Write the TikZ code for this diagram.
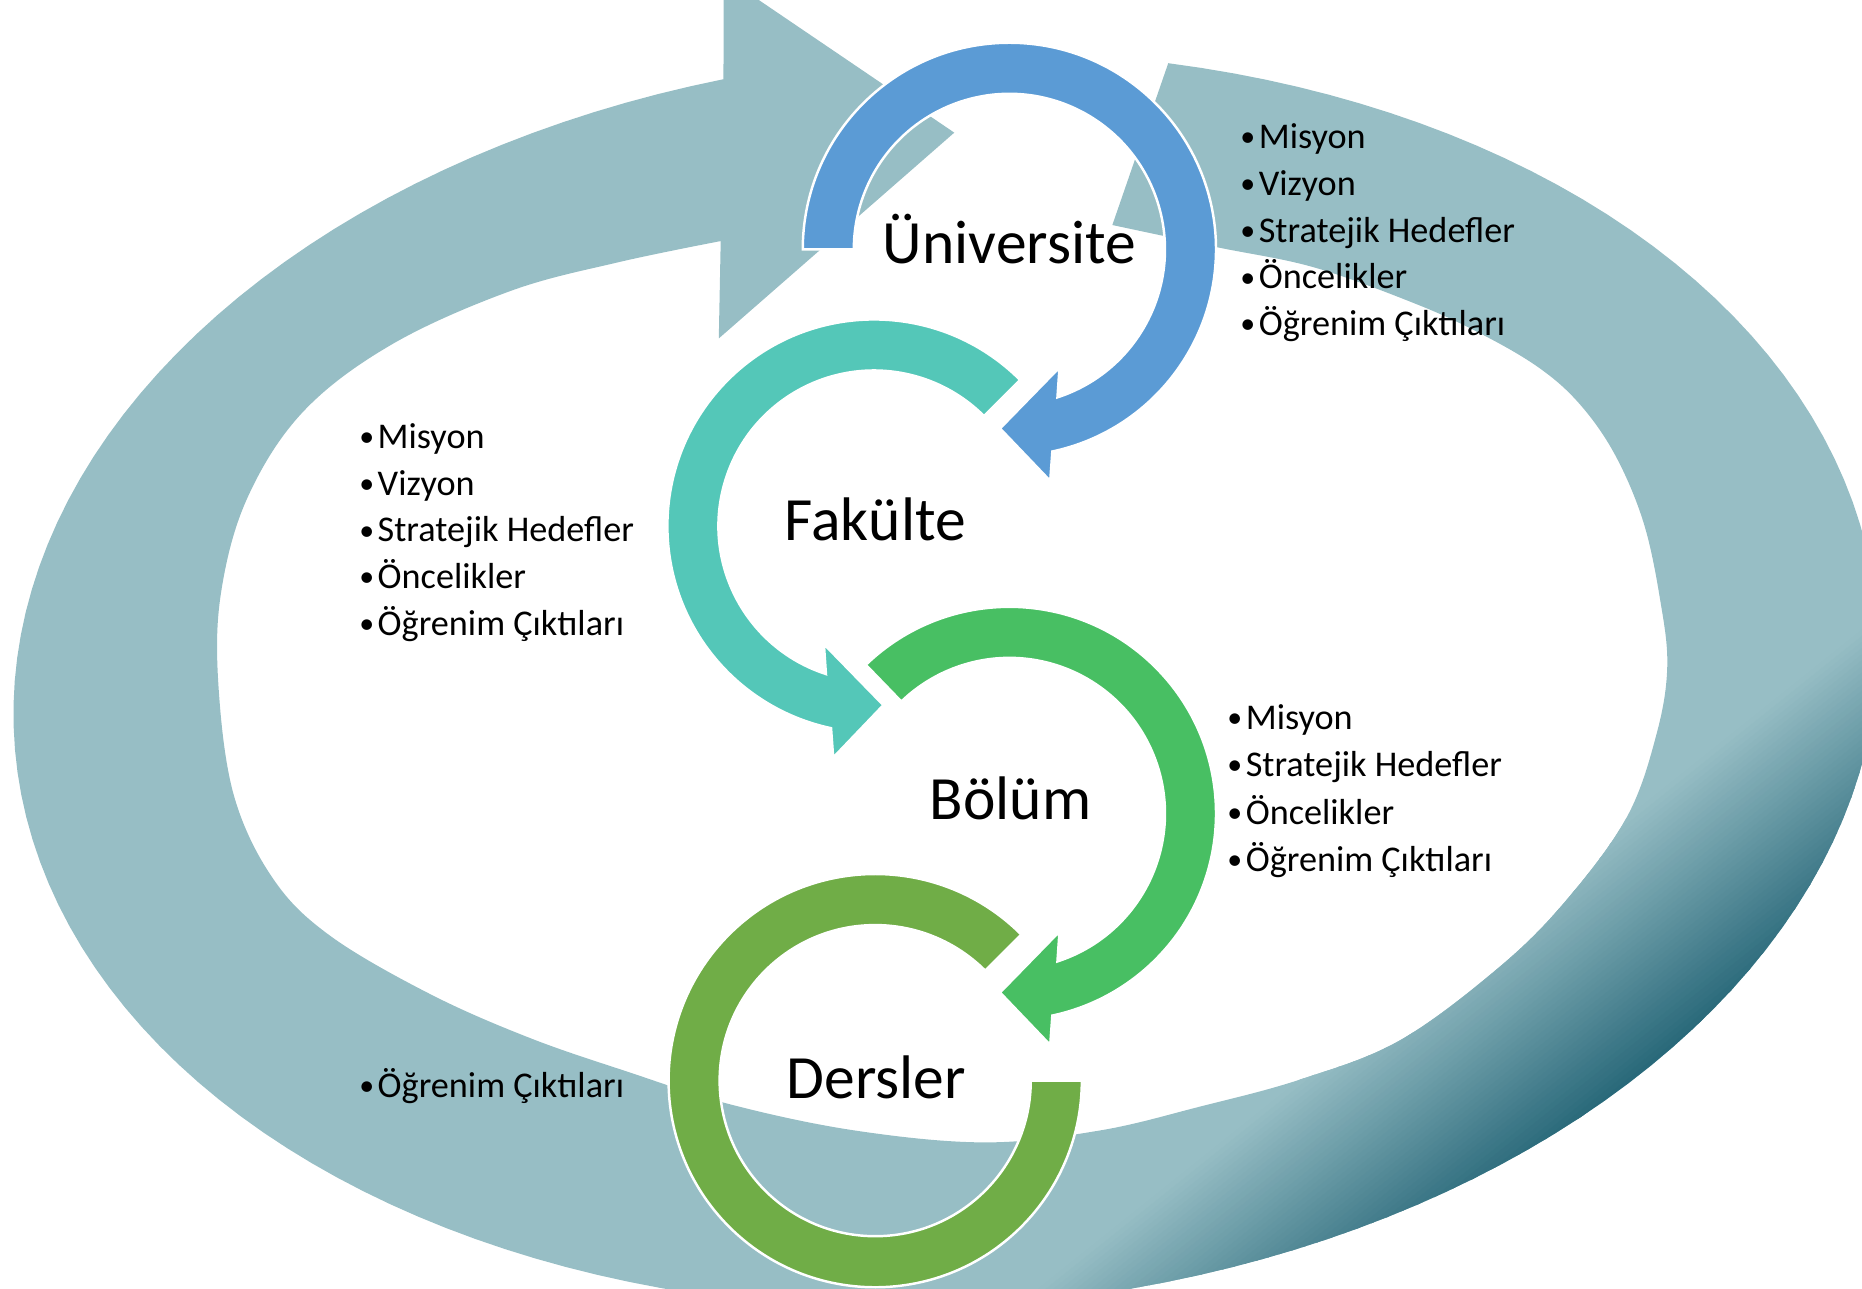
\documentclass[tikz,border=0pt]{standalone}
\usepackage{fontspec}
\setmainfont{Carlito}
\usepackage{tikz}
\usetikzlibrary{calc}

\definecolor{ringlight}{RGB}{151,190,197}
\definecolor{ringdark}{RGB}{30,96,114}
\definecolor{uniblue}{RGB}{91,155,213}
\definecolor{fakteal}{RGB}{84,199,184}
\definecolor{bolgreen}{RGB}{72,191,99}
\definecolor{dersolive}{RGB}{112,173,71}

% outline of the big cycle arrow (units: px of a 1568 x 1085 frame, y down)
\newcommand{\bigcycle}{plot[domain=-76.2:256.2, samples=160]
    ({796.5+785.2*cos(\x)},{573+528.3*sin(\x)-28.25*cos(\x)})
  -- (609.5,-20) -- (803.6,111.7) -- (605.3,285)
  -- plot[smooth, tension=0.6] coordinates {
    (606.9,203) (520,221) (430,245) (330,290) (255,347) (208,420) (186,500)
    (184,578) (197,670) (230,740) (278,788) (362,837) (446,874) (530,903)
    (615,930) (720,952) (830,962) (926,952) (1010,932) (1095,909) (1179,876)
    (1263,814) (1319,758) (1370,688) (1395,618) (1404,561) (1398,505)
    (1384,440) (1360,383) (1330,340) (1295,309) (1245,280) (1190,255)
    (1106,225) (1024,208) (936.7,189.5)}
  -- cycle}

% circular arrow: #1 centre, #2 colour, #3 start angle, #4 outer end,
% #5 outer barb, #6 tip, #7 inner barb, #8 inner end
\newcommand{\ringarrow}[8]{%
  \fill[#2, draw=white, line width=0.7pt, shift={#1}]
    (#3:174) arc[start angle=#3, end angle=#4, radius=174]
    -- (#5:198) -- (#6:151) -- (#7:108) -- (#8:131)
    arc[start angle=#8, end angle=#3, radius=131] -- cycle;}

\newcommand{\blt}{\raisebox{0.5pt}{\fontsize{8.5}{10}\selectfont•}\hspace{1pt}}

\begin{document}
\begin{tikzpicture}[x=0.011875cm, y=-0.011875cm,
  levelname/.style={font=\fontsize{17.5}{21}\selectfont, anchor=base, inner sep=0pt},
  bullitem/.style={font=\fontsize{10.3}{12.4}\selectfont, anchor=base west, inner sep=0pt}]
\useasboundingbox (0,0) rectangle (1568,1085);
\clip (0,0) rectangle (1568,1085);

% Big cycle arrow
\fill[ringlight] \bigcycle;
\begin{scope}
  \clip \bigcycle;
  \foreach \k in {0,...,47}{
    \pgfmathsetmacro{\da}{4*\k}
    \pgfmathsetmacro{\db}{4*\k+4.6}
    \pgfmathsetmacro{\pct}{100*(\k+0.5)/48}
    \fill[ringdark!\pct!ringlight]
      ({1381+0.6247*\da+0.7809*300},{680+0.7809*\da-0.6247*300}) --
      ({1381+0.6247*\da-0.7809*800},{680+0.7809*\da+0.6247*800}) --
      ({1381+0.6247*\db-0.7809*800},{680+0.7809*\db+0.6247*800}) --
      ({1381+0.6247*\db+0.7809*300},{680+0.7809*\db-0.6247*300}) -- cycle;
  }
  \fill[ringdark]
    ({1381+0.6247*192+0.7809*300},{680+0.7809*192-0.6247*300}) --
    ({1381+0.6247*192-0.7809*800},{680+0.7809*192+0.6247*800}) --
    ({1381+0.6247*600-0.7809*800},{680+0.7809*600+0.6247*800}) --
    ({1381+0.6247*600+0.7809*300},{680+0.7809*600-0.6247*300}) -- cycle;
\end{scope}

% Circular arrows
\ringarrow{(850,210)}{uniblue}{-180}{78}{80}{93}{67}{72}
\ringarrow{(736,443)}{fakteal}{-45}{-258}{-260}{-273}{-247}{-252}
\ringarrow{(850,685)}{bolgreen}{-134}{78}{80}{93}{67}{72}
\fill[dersolive, draw=white, line width=0.7pt, shift={(737,910)}]
  (-45:174) arc[start angle=-45, end angle=-360, radius=174]
  -- (0:131) arc[start angle=-360, end angle=-45, radius=131] -- cycle;

% Level names
\node[levelname] (universite) at (850,222) {Üniversite};
\node[levelname] (fakulte) at (737,455) {Fakülte};
\node[levelname] (bolum) at (851,690) {Bölüm};
\node[levelname] (dersler) at (738,925) {Dersler};

% Bullet lists
\foreach \txt [count=\i from 0] in {Misyon, Vizyon, Stratejik Hedefler, Öncelikler, Öğrenim Çıktıları}
  \node[bullitem] (uni-\i) at (1044,{125+39.4*\i}) {\blt\txt};
\foreach \txt [count=\i from 0] in {Misyon, Vizyon, Stratejik Hedefler, Öncelikler, Öğrenim Çıktıları}
  \node[bullitem] (fak-\i) at (302,{377.5+39.4*\i}) {\blt\txt};
\foreach \txt [count=\i from 0] in {Misyon, Stratejik Hedefler, Öncelikler, Öğrenim Çıktıları}
  \node[bullitem] (bol-\i) at (1033,{614+40*\i}) {\blt\txt};
\node[bullitem] (ders-0) at (302,924) {\blt Öğrenim Çıktıları};

\end{tikzpicture}
\end{document}
